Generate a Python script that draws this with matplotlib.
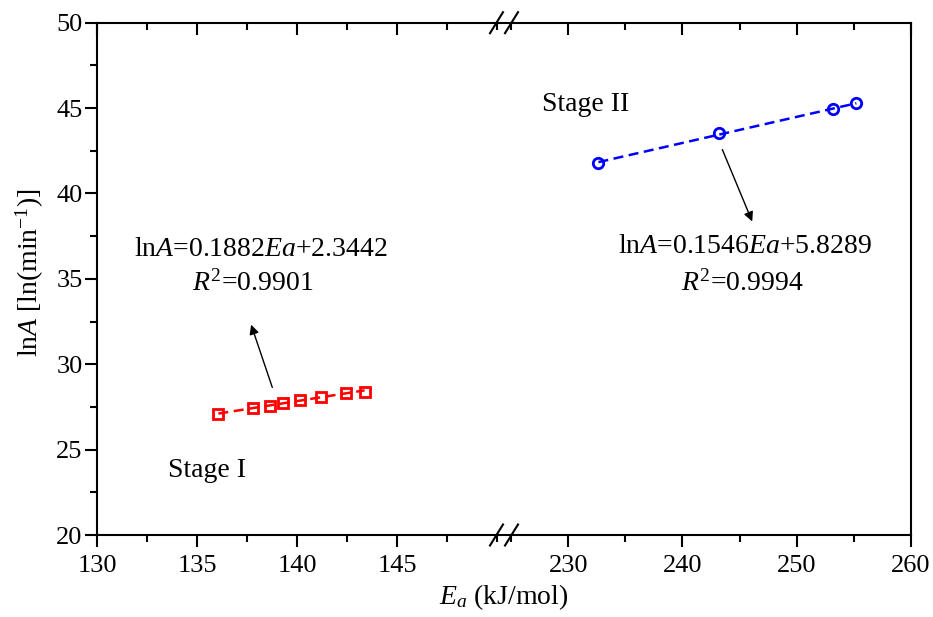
import matplotlib
matplotlib.use("Agg")
import matplotlib.pyplot as plt
import numpy as np
from matplotlib.lines import Line2D
from matplotlib.ticker import MultipleLocator

# data
ea_stage1 = [136.07, 137.79, 138.66, 139.29, 140.13, 141.20, 142.45, 143.38]
lna_stage1 = [27.07, 27.45, 27.55, 27.75, 27.90, 28.10, 28.33, 28.39]
ea_stage2 = [232.65, 243.22, 253.18, 255.22]
lna_stage2 = [41.80, 43.52, 44.94, 45.28]

plt.rcParams["font.family"] = "Liberation Serif"
plt.rcParams["mathtext.fontset"] = "custom"
plt.rcParams["mathtext.rm"] = "Liberation Serif"
plt.rcParams["mathtext.it"] = "Liberation Serif:italic"
plt.rcParams["font.size"] = 19
plt.rcParams["axes.linewidth"] = 1.5

fig = plt.figure(figsize=(9.33, 6.17), dpi=100)
W, H = 933, 617
bot = (H - 535) / H
top = 1 - 22.7 / H
ax1 = fig.add_axes([97 / W, bot, 400 / W, top - bot])
ax2 = fig.add_axes([511 / W, bot, 400 / W, top - bot])

ax1.set_xlim(130, 150)
ax2.set_xlim(225, 260)
for ax in (ax1, ax2):
    ax.set_ylim(20, 50)
    ax.yaxis.set_major_locator(MultipleLocator(5))
    ax.yaxis.set_minor_locator(MultipleLocator(2.5))
    ax.tick_params(which="major", direction="out", length=8.4, width=1.5)
    ax.tick_params(which="minor", direction="out", length=4.8, width=1.5)
    ax.tick_params(axis="x", which="both", top=True)
    ax.tick_params(axis="x", which="major", pad=6)
    ax.tick_params(axis="y", which="major", pad=2)

ax1.xaxis.set_major_locator(MultipleLocator(5))
ax1.xaxis.set_minor_locator(MultipleLocator(2.5))
ax1.set_xticks([130, 135, 140, 145])
ax2.xaxis.set_major_locator(MultipleLocator(10))
ax2.xaxis.set_minor_locator(MultipleLocator(5))
ax2.set_xticks([230, 240, 250, 260])

ax1.spines["right"].set_visible(False)
ax2.spines["left"].set_visible(False)
ax2.tick_params(axis="y", which="both", left=False, labelleft=False)

# top ticks point inward
for ax in (ax1, ax2):
    for t in ax.xaxis.get_major_ticks() + ax.xaxis.get_minor_ticks():
        t.tick2line.set_marker(3)

# stage I
ax1.plot(ea_stage1, lna_stage1, "s", mfc="none", mec="red", mew=2, ms=6.5, zorder=3)
p1 = np.polyfit(ea_stage1, lna_stage1, 1)
xs1 = np.array([ea_stage1[0], ea_stage1[-1]])
ax1.plot(xs1, np.polyval(p1, xs1), "--", color="red", lw=1.8, dashes=(4, 2.2))

# stage II
ax2.plot(ea_stage2, lna_stage2, "o", mfc="none", mec="blue", mew=2, ms=7.5, zorder=3)
p2 = np.polyfit(ea_stage2, lna_stage2, 1)
xs2 = np.array([ea_stage2[0], ea_stage2[-1]])
ax2.plot(xs2, np.polyval(p2, xs2), "--", color="blue", lw=1.8, dashes=(4, 2.2))

# annotations
fs = 20
ax1.text(135.5, 23.75, "Stage I", ha="center", va="center", fontsize=fs)
ax2.text(231.5, 45.23, "Stage II", ha="center", va="center", fontsize=fs)
ax1.text(138.18, 36.74, r"ln$A$=0.1882$Ea$+2.3442", ha="center", va="center", fontsize=fs)
ax1.text(137.8, 34.75, r"$R^2$=0.9901", ha="center", va="center", fontsize=fs)
ax2.text(245.45, 36.92, r"ln$A$=0.1546$Ea$+5.8289", ha="center", va="center", fontsize=fs)
ax2.text(245.2, 34.75, r"$R^2$=0.9994", ha="center", va="center", fontsize=fs)

ax1.annotate("", xy=(137.66, 32.47), xytext=(138.81, 28.49),
             arrowprops=dict(arrowstyle="-|>", color="black", lw=1, mutation_scale=14))
ax2.annotate("", xy=(246.2, 38.21), xytext=(243.4, 42.72),
             arrowprops=dict(arrowstyle="-|>", color="black", lw=1, mutation_scale=14))

fig.text(30 / W, 1 - 357 / H, r"ln$A$ [ln(min$^{-1}$)]", rotation=90,
         ha="center", va="bottom", fontsize=20)
fig.text(504 / W, 1 - 597 / H, r"$E_a$ (kJ/mol)", ha="center", va="center", fontsize=20)

# axis break: line through the gap plus two slashes
for yf in (bot, top):
    fig.add_artist(Line2D([497 / W, 511 / W], [yf, yf], color="black", lw=1.5))
    for xc in (496.5, 511.5):
        fig.add_artist(Line2D([(xc - 6.5) / W, (xc + 6.5) / W],
                              [yf - 10.5 / H, yf + 10.5 / H],
                              color="black", lw=1.5))

fig.savefig("out.png", dpi=100)
